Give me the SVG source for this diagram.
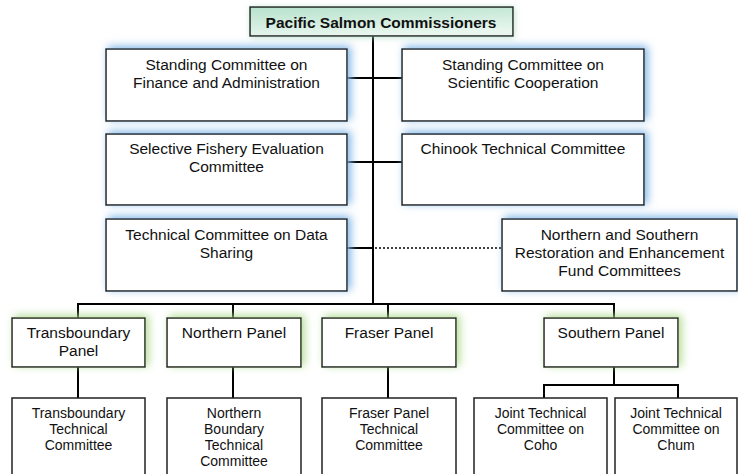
<svg xmlns="http://www.w3.org/2000/svg" width="738" height="474" viewBox="0 0 738 474">
<style>
.box{fill:#fff;stroke:#222;stroke-width:1.5}
.t{font-family:"Liberation Sans",Arial,sans-serif;font-size:15.5px;fill:#111;text-anchor:middle}
.s{font-family:"Liberation Sans",Arial,sans-serif;font-size:14px;fill:#111;text-anchor:middle}
.ln{stroke:#000;stroke-width:2;fill:none}
.dot{stroke:#000;stroke-width:1.5;stroke-dasharray:2 2;fill:none}
</style>
<defs>
<linearGradient id="gTop" x1="0" y1="0" x2="0.3" y2="1">
<stop offset="0" stop-color="#b6e2cc"/>
<stop offset="1" stop-color="#e8f6ee"/>
</linearGradient>
<filter id="blueGlow" x="-10%" y="-25%" width="120%" height="150%">
<feDropShadow dx="3" dy="-2" stdDeviation="4.5" flood-color="#7fb5e6" flood-opacity="1"/>
</filter>
<filter id="greenGlow" x="-15%" y="-25%" width="130%" height="150%">
<feDropShadow dx="3" dy="-2" stdDeviation="4.5" flood-color="#acd98a" flood-opacity="0.9"/>
</filter>
<filter id="topGlow" x="-10%" y="-40%" width="120%" height="180%">
<feDropShadow dx="1" dy="1" stdDeviation="3" flood-color="#a8d8c0" flood-opacity="0.7"/>
</filter>
</defs>

<g id="connectors">
<line class="ln" x1="373" y1="36" x2="373" y2="304"/>
<line class="ln" x1="347" y1="78" x2="402" y2="78"/>
<line class="ln" x1="347" y1="162" x2="402" y2="162"/>
<line class="ln" x1="347" y1="248" x2="373" y2="248"/>
<line class="dot" x1="375" y1="248" x2="502" y2="248"/>
<polyline class="ln" points="78,318 78,304 614,304 614,318"/>
<line class="ln" x1="233" y1="304" x2="233" y2="318"/>
<line class="ln" x1="388" y1="304" x2="388" y2="318"/>
<line class="ln" x1="78" y1="367" x2="78" y2="398"/>
<line class="ln" x1="233" y1="367" x2="233" y2="398"/>
<line class="ln" x1="388" y1="367" x2="388" y2="398"/>
<line class="ln" x1="614" y1="367" x2="614" y2="385"/>
<polyline class="ln" points="544,398 544,385 678,385 678,398"/>
</g>

<g id="commissioners">
<rect x="250" y="7" width="263" height="29" fill="url(#gTop)" stroke="#222" stroke-width="1.5" filter="url(#topGlow)"/>
<text class="t" x="381" y="28" font-weight="bold">Pacific Salmon Commissioners</text>
</g>

<g id="finance">
<rect class="box" x="106" y="49" width="241" height="72" filter="url(#blueGlow)"/>
<text class="t" x="226.5" y="70">Standing Committee on</text>
<text class="t" x="226.5" y="88">Finance and Administration</text>
</g>

<g id="scientific">
<rect class="box" x="402" y="49" width="242" height="72" filter="url(#blueGlow)"/>
<text class="t" x="523" y="70">Standing Committee on</text>
<text class="t" x="523" y="88">Scientific Cooperation</text>
</g>

<g id="selective">
<rect class="box" x="106" y="134" width="241" height="71" filter="url(#blueGlow)"/>
<text class="t" x="226.5" y="154">Selective Fishery Evaluation</text>
<text class="t" x="226.5" y="172">Committee</text>
</g>

<g id="chinook">
<rect class="box" x="402" y="134" width="242" height="71" filter="url(#blueGlow)"/>
<text class="t" x="523" y="154">Chinook Technical Committee</text>
</g>

<g id="datasharing">
<rect class="box" x="106" y="219" width="241" height="72" filter="url(#blueGlow)"/>
<text class="t" x="226.5" y="240">Technical Committee on Data</text>
<text class="t" x="226.5" y="258">Sharing</text>
</g>

<g id="restoration">
<rect class="box" x="502" y="219" width="235" height="72" filter="url(#blueGlow)"/>
<text class="t" x="619.5" y="240">Northern and Southern</text>
<text class="t" x="619.5" y="258">Restoration and Enhancement</text>
<text class="t" x="619.5" y="276">Fund Committees</text>
</g>

<g id="transboundary-panel">
<rect class="box" x="12" y="318" width="133" height="49" filter="url(#greenGlow)"/>
<text class="t" x="78.5" y="338">Transboundary</text>
<text class="t" x="78.5" y="356">Panel</text>
</g>

<g id="northern-panel">
<rect class="box" x="167" y="318" width="134" height="49" filter="url(#greenGlow)"/>
<text class="t" x="234" y="338">Northern Panel</text>
</g>

<g id="fraser-panel">
<rect class="box" x="322" y="318" width="134" height="49" filter="url(#greenGlow)"/>
<text class="t" x="389" y="338">Fraser Panel</text>
</g>

<g id="southern-panel">
<rect class="box" x="544" y="318" width="134" height="49" filter="url(#greenGlow)"/>
<text class="t" x="611" y="338">Southern Panel</text>
</g>

<g id="transboundary-tc">
<rect class="box" x="12" y="398" width="133" height="85"/>
<text class="s" x="78.5" y="418">Transboundary</text>
<text class="s" x="78.5" y="434">Technical</text>
<text class="s" x="78.5" y="450">Committee</text>
</g>

<g id="northern-boundary-tc">
<rect class="box" x="167" y="398" width="134" height="85"/>
<text class="s" x="234" y="418">Northern</text>
<text class="s" x="234" y="434">Boundary</text>
<text class="s" x="234" y="450">Technical</text>
<text class="s" x="234" y="466">Committee</text>
</g>

<g id="fraser-tc">
<rect class="box" x="322" y="398" width="134" height="85"/>
<text class="s" x="389" y="418">Fraser Panel</text>
<text class="s" x="389" y="434">Technical</text>
<text class="s" x="389" y="450">Committee</text>
</g>

<g id="coho">
<rect class="box" x="474" y="398" width="133" height="85"/>
<text class="s" x="540.5" y="418">Joint Technical</text>
<text class="s" x="540.5" y="434">Committee on</text>
<text class="s" x="540.5" y="450">Coho</text>
</g>

<g id="chum">
<rect class="box" x="615" y="398" width="122" height="85"/>
<text class="s" x="676" y="418">Joint Technical</text>
<text class="s" x="676" y="434">Committee on</text>
<text class="s" x="676" y="450">Chum</text>
</g>
</svg>
